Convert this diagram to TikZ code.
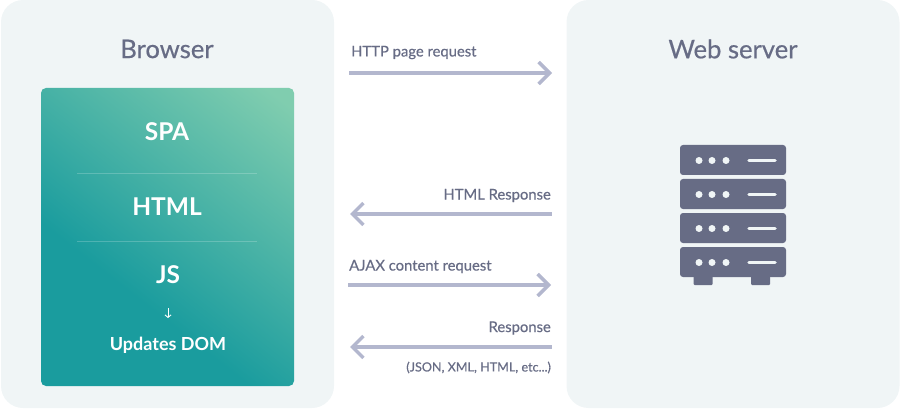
\documentclass[tikz,border=0pt]{standalone}
\usepackage{fontspec}
\setmainfont{Lato}
\newfontfamily\medfont[FakeBold=0.5]{Lato}
\usetikzlibrary{arrows.meta,positioning,calc}
\definecolor{panelbg}{HTML}{F0F5F6}
\definecolor{slate}{HTML}{676C85}
\definecolor{arrowblue}{HTML}{B3B7CE}
\definecolor{spadark}{HTML}{1A9C9E}
\definecolor{spalight}{HTML}{80CDAF}
\pgfdeclareverticalshading{spagrad}{100bp}{color(0bp)=(spadark); color(25bp)=(spadark); color(38bp)=(spadark); color(82bp)=(spalight); color(100bp)=(spalight)}
\tikzset{panel/.style={fill=panelbg,rounded corners=22pt,minimum width=333pt,minimum height=408pt,inner sep=0pt},
  title/.style={text=slate,inner sep=0pt,font=\fontsize{25.6}{30}\medfont},
  layer/.style={text=white,inner sep=0pt,font=\fontsize{24.5}{30}\selectfont\bfseries},
  msg/.style={text=slate,inner sep=0pt,font=\fontsize{14.8}{17}\medfont},
  arr/.style={{Straight Barb[length=11pt,width=22pt]}-,arrowblue,line width=3.5pt},
  rarr/.style={-{Straight Barb[length=11pt,width=22pt]},arrowblue,line width=3.5pt}}
\begin{document}
\begin{tikzpicture}[x=1pt,y=-1pt]
\useasboundingbox (0,0) rectangle (900,409);
\node[panel] (browser) at (167.5,204) {};
\node[panel] (server) at (733,204) {};
\node[title] (browsertitle) at (167,49) {Browser};
\node[title] (servertitle) at (733,49) {Web server};
% gradient card
\node[minimum width=253pt,minimum height=298pt,rounded corners=5pt,shade,shading=spagrad,shading angle=-38] (card) at (167.5,237) {};
\node[layer] (spa) at (167,132) {SPA};
\node[layer] (html) at (167,207) {HTML};
\node[layer] (js) at (168,275) {JS};
\node[layer,font=\fontsize{18}{21}\selectfont\bfseries] (dom) at (168,345.5) {Updates DOM};
\draw[white,opacity=.2,line width=1pt] (77,174) -- (257,174);
\draw[white,opacity=.2,line width=1pt] (77,241) -- (257,241);
\coordinate (jsend) at (168,308);
\coordinate (domend) at (168,318);
\draw[white,line width=.9pt,-{Straight Barb[length=2.5pt,width=6pt]}] (jsend) -- (domend);
% messages
\coordinate (reqa) at (349,73);   \coordinate (reqb) at (552,73);
\coordinate (respa) at (350,214); \coordinate (respb) at (552,214);
\coordinate (ajaxa) at (348,285); \coordinate (ajaxb) at (551,285);
\coordinate (dataa) at (350,347); \coordinate (datab) at (552,347);
\draw[rarr] (reqa) -- (reqb);
\draw[arr] (respa) -- (respb);
\draw[rarr] (ajaxa) -- (ajaxb);
\draw[arr] (dataa) -- (datab);
\node[msg,anchor=west] (reqlabel) at (351,52.5) {HTTP page request};
\node[msg,anchor=east] (resplabel) at (551,195.5) {HTML Response};
\node[msg,anchor=west] (ajaxlabel) at (349,266.5) {AJAX content request};
\node[msg,anchor=east] (datalabel) at (551,328) {Response};
\node[msg,anchor=east,font=\fontsize{12.6}{15}\medfont] (formats) at (551,367.5) {(JSON, XML, HTML, etc...)};
% server icon
\fill[slate,rounded corners=1pt] (693.5,270) rectangle (712.5,285);
\fill[slate,rounded corners=1pt] (751,270) rectangle (770,285);
\foreach \y in {145,179,213,247} {
  \fill[slate,rounded corners=3pt] (680,\y) rectangle (786,\y+30);
  \foreach \x in {699,712,726}
    \fill[panelbg] (\x,\y+15.5) circle (3.5);
  \draw[panelbg,line width=3.5pt,line cap=round] (749,\y+15.5) -- (775,\y+15.5);
}
\end{tikzpicture}
\end{document}
